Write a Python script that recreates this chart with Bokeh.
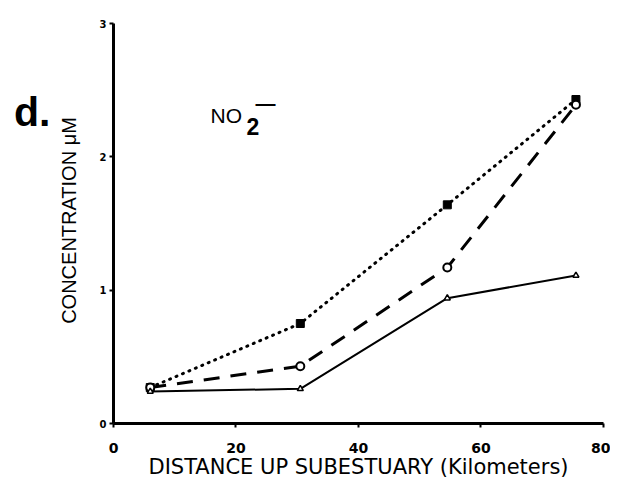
import math
from bokeh.plotting import figure
from bokeh.models import Label, Range1d, FixedTicker
from bokeh.embed import file_html
from bokeh.resources import INLINE

# data (distance km, concentration uM)
dist_dotted = [6, 30.5, 54.5, 75.5]
conc_dotted = [0.27, 0.75, 1.64, 2.43]
dist_dashed = [6, 30.5, 54.5, 75.5]
conc_dashed = [0.27, 0.43, 1.17, 2.39]
dist_solid = [6, 30.5, 54.5, 75.5]
conc_solid = [0.24, 0.26, 0.94, 1.11]
x_ticks = [0, 20, 40, 60, 80]
y_ticks = [0, 1, 2, 3]
x_title = "DISTANCE UP SUBESTUARY (Kilometers)"
y_title = "CONCENTRATION \u03bcM"

W, H = 610, 480
# the frame covers the whole canvas; axes are pinned at x=0 / y=0
p = figure(width=W, height=H, output_backend="svg", toolbar_location=None,
           x_range=Range1d(-18.449, 81.143), y_range=Range1d(-0.4275, 3.1725),
           min_border=0)
p.outline_line_color = None
p.xgrid.visible = False
p.ygrid.visible = False
p.background_fill_color = "white"

FONT = "Liberation Sans"
TFONT = "DejaVu Sans"
for ax in (p.xaxis[0], p.yaxis[0]):
    ax.axis_line_width = 3
    ax.axis_line_color = "black"
    ax.major_tick_line_width = 2
    ax.major_tick_in = 0
    ax.major_tick_out = 4
    ax.minor_tick_line_color = None
    ax.major_label_text_font = TFONT
    ax.major_label_text_font_style = "bold"
    ax.major_label_text_color = "black"

p.yaxis.fixed_location = 0
p.xaxis.fixed_location = 0
p.xaxis.bounds = (0, 80)
p.yaxis.bounds = (0, 3)
p.xaxis.ticker = FixedTicker(ticks=x_ticks)
p.yaxis.ticker = FixedTicker(ticks=y_ticks)
p.xaxis.major_label_text_font_size = "14px"
p.xaxis.major_label_standoff = 15
p.yaxis.major_label_text_font_size = "10px"
p.yaxis.major_label_standoff = 3

p.line(dist_dotted, conc_dotted, line_color="black", line_width=3, line_dash="1 6", line_cap="round")
p.scatter(dist_dotted, conc_dotted, marker="square", size=8, fill_color="black", line_color="black")

p.line(dist_dashed, conc_dashed, line_color="black", line_width=3, line_dash="16 11")
p.scatter(dist_dashed, conc_dashed, marker="circle", size=8, fill_color="white", line_color="black", line_width=2)

p.line(dist_solid, conc_solid, line_color="black", line_width=2)
p.scatter(dist_solid, conc_solid, marker="triangle", size=6, fill_color="white", line_color="black", line_width=1.5)

# axis titles
p.add_layout(Label(x=40, x_units="data", y=1.5, y_units="screen", text=x_title,
                   text_align="center", text_baseline="bottom",
                   text_font=TFONT, text_font_size="21px", text_color="black"))
p.add_layout(Label(x=79, x_units="screen", y=260, y_units="screen", text=y_title,
                   angle=math.pi / 2, text_align="center", text_baseline="bottom",
                   text_font=FONT, text_font_size="20px", text_color="black"))

# panel letter and ion label (screen units, from frame bottom-left)
p.add_layout(Label(x=13.5, y=346, x_units="screen", y_units="screen", text="d.",
                   text_font=FONT, text_font_style="bold", text_font_size="41px",
                   text_baseline="bottom", text_color="black"))
p.add_layout(Label(x=210, y=353.5, x_units="screen", y_units="screen", text="NO",
                   text_font=FONT, text_font_size="21px",
                   text_baseline="bottom", text_color="black"))
p.add_layout(Label(x=246, y=346, x_units="screen", y_units="screen", text="2",
                   text_font=FONT, text_font_style="bold", text_font_size="23px",
                   text_baseline="bottom", text_color="black"))
p.add_layout(Label(x=255, y=367, x_units="screen", y_units="screen", text="\u2014",
                   text_font=FONT, text_font_style="bold", text_font_size="20px",
                   text_baseline="bottom", text_color="black"))

open("out.html", "w").write(file_html(p, INLINE))
